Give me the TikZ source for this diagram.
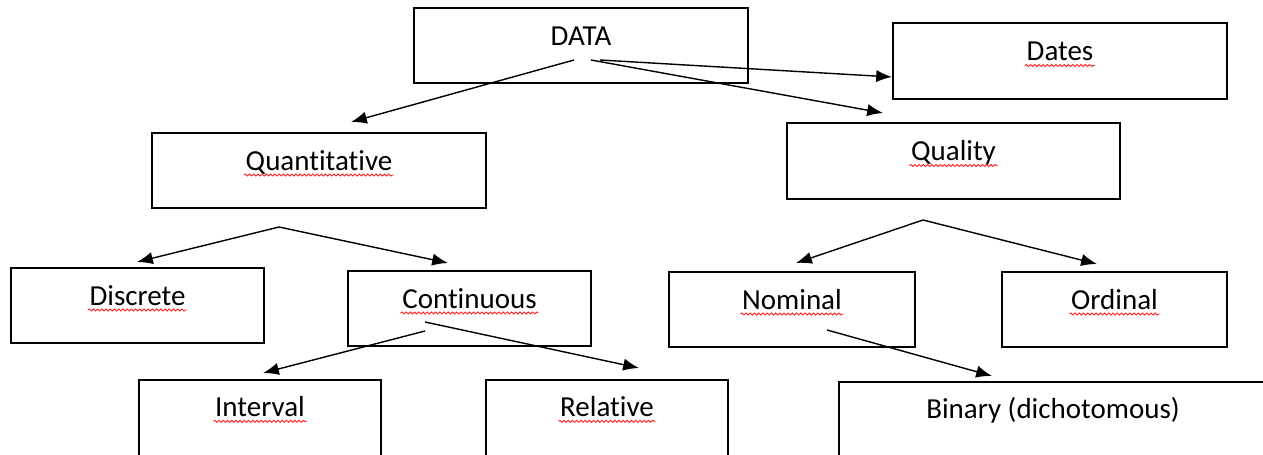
\documentclass[tikz,border=0pt]{standalone}
\usepackage{fontspec}
\setmainfont{Carlito}[Ligatures=NoCommon]
\usetikzlibrary{arrows.meta,calc,decorations.pathmorphing}

\begin{document}
\begin{tikzpicture}[>={Latex[length=9pt,width=7pt]}, x=0.02cm, y=-0.02cm, line width=0.8pt,
	box/.style={draw, rectangle, inner sep=0pt, minimum height=1.5cm},
	txt/.style={inner sep=0pt, anchor=base, font=\fontsize{16.5}{20}\selectfont},
	squiggle/.style={draw=red!85, line width=0.55pt, decorate, decoration={snake, amplitude=0.55pt, segment length=2.4pt}}]
	\clip (0,0) rectangle (1263,455);

	\node[box, minimum width=6.68cm] (data) at (581,45.5) {};
	\node[txt] (data-t) at (data.center) {DATA};
	\node[box, minimum width=6.68cm, minimum height=1.52cm] (dates) at (1060,61) {};
	\node[txt] (dates-t) at (dates.center) {Dates};
	\node[box, minimum width=6.68cm] (quant) at (319,170.5) {};
	\node[txt] (quant-t) at (quant.center) {Quantitative};
	\node[box, minimum width=6.66cm, minimum height=1.52cm] (quality) at (953.5,161) {};
	\node[txt] (quality-t) at (quality.center) {Quality};
	\node[box, minimum width=5.06cm] (discrete) at (137.5,305.5) {};
	\node[txt] (discrete-t) at (discrete.center) {Discrete};
	\node[box, minimum width=4.86cm] (cont) at (469.5,308.5) {};
	\node[txt] (cont-t) at (cont.center) {Continuous};
	\node[box, minimum width=4.92cm] (nominal) at (792,309.5) {};
	\node[txt] (nominal-t) at (nominal.center) {Nominal};
	\node[box, minimum width=4.5cm] (ordinal) at (1114.5,309.5) {};
	\node[txt] (ordinal-t) at (ordinal.center) {Ordinal};
	\node[box, minimum width=4.84cm, minimum height=1.8cm] (interval) at (260,425) {};
	\node[txt] (interval-t) at ($(interval.north)+(0,37.5)$) {Interval};
	\node[box, minimum width=4.84cm, minimum height=1.8cm] (relative) at (607,425) {};
	\node[txt] (relative-t) at ($(relative.north)+(0,37.5)$) {Relative};
	\node[box, minimum width=8.56cm, minimum height=1.8cm] (binary) at (1053,427) {};
	\node[txt] (binary-t) at ($(binary.north)+(0,37.5)$) {Binary (dichotomous)};

	\foreach \n in {dates,quant,quality,discrete,cont,nominal,ordinal,interval,relative}
		\draw[squiggle] ($(\n-t.base west)+(-1,4.5)$) -- ($(\n-t.base east)+(1,4.5)$);

	\coordinate (data-l) at (574,60);
	\coordinate (data-q) at (591,60);
	\coordinate (data-d) at (600,60);
	\coordinate (quant-fork) at (279,227);
	\coordinate (quality-fork) at (923,220);
	\coordinate (cont-l) at (425,331);
	\coordinate (cont-r) at (425,322);
	\coordinate (nominal-r) at (827,330);

	\coordinate (quant-in) at (351,122);
	\coordinate (quality-in) at (883,113);
	\coordinate (dates-in) at (892,77);
	\coordinate (discrete-in) at (137,262);
	\coordinate (cont-in) at (448,263);
	\coordinate (nominal-in) at (796,263);
	\coordinate (ordinal-in) at (1097,264);
	\coordinate (interval-in) at (263,373);
	\coordinate (relative-in) at (639,368);
	\coordinate (binary-in) at (992,376);

	\draw[->] (data-l) -- (quant-in);
	\draw[->] (data-q) -- (quality-in);
	\draw[->] (data-d) -- (dates-in);
	\draw[->] (quant-fork) -- (discrete-in);
	\draw[->] (quant-fork) -- (cont-in);
	\draw[->] (quality-fork) -- (nominal-in);
	\draw[->] (quality-fork) -- (ordinal-in);
	\draw[->] (cont-l) -- (interval-in);
	\draw[->] (cont-r) -- (relative-in);
	\draw[->] (nominal-r) -- (binary-in);
\end{tikzpicture}
\end{document}
